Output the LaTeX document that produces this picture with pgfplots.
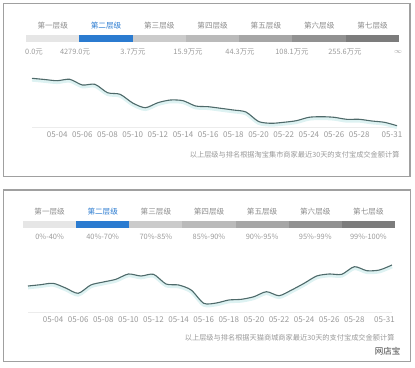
\documentclass[border=0pt]{standalone}
\usepackage{fontspec}
\setmainfont{Noto Sans CJK SC}
\usepackage{pgfplots}
\pgfplotsset{compat=1.18}
\definecolor{framegray}{HTML}{A0A0A0}
\definecolor{tiertext}{HTML}{8C8C8C}
\definecolor{selblue}{HTML}{2B7BD0}
\definecolor{valtext}{HTML}{9A9A9A}
\definecolor{tickc}{HTML}{999999}
\definecolor{linec}{HTML}{4F6A6A}
\definecolor{glow}{HTML}{DDF2F2}
\definecolor{basec}{HTML}{ECECEC}
\definecolor{sa}{HTML}{E6E6E6}
\definecolor{sc}{HTML}{CBCBCB}
\definecolor{sd}{HTML}{BABABA}
\definecolor{se}{HTML}{A6A6A6}
\definecolor{sf}{HTML}{919191}
\definecolor{sg}{HTML}{7C7C7C}
\pgfplotsset{
  tierbar/.style={width=373pt, height=7pt, scale only axis, xmin=0, xmax=7,
    ymin=-0.5, ymax=0.5, hide axis, xbar stacked, bar width=7pt},
  trend/.style={scale only axis, height=60pt, xmin=2, xmax=31, ymin=0, ymax=60,
    axis x line=bottom, axis y line=none, ytick=\empty,
    x axis line style={draw=basec, line width=0.8pt, -},
    xtick={4,6,8,10,12,14,16,18,20,22,24,26,28,30.6},
    xticklabels={05-04,05-06,05-08,05-10,05-12,05-14,05-16,05-18,05-20,05-22,05-24,05-26,05-28,05-31},
    major tick length=0pt,
    xticklabel style={font=\fontsize{8}{9}\selectfont, text=tickc, yshift=-1pt},
    clip=false}
}
\begin{document}
\begin{tikzpicture}
\useasboundingbox (0pt,0pt) rectangle (415pt,-367pt);
% ---------- panel 1 ----------
\draw[framegray, line width=1.3pt] (3.5pt,-3.5pt) rectangle (410pt,-176.5pt);
\begin{axis}[tierbar, at={(26pt,-38.5pt)}, anchor=west]
\addplot[fill=sa, draw=none] coordinates {(1,0)};
\addplot[fill=selblue, draw=none] coordinates {(1,0)};
\addplot[fill=sc, draw=none] coordinates {(1,0)};
\addplot[fill=sd, draw=none] coordinates {(1,0)};
\addplot[fill=se, draw=none] coordinates {(1,0)};
\addplot[fill=sf, draw=none] coordinates {(1,0)};
\addplot[fill=sg, draw=none] coordinates {(1,0)};
\end{axis}
\begin{scope}[font=\fontsize{7.6}{9}\selectfont]
\node[text=tiertext] at (52.7pt,-25.7pt) {第一层级};
\node[text=selblue] at (106pt,-25.7pt) {第二层级};
\node[text=tiertext] at (159.3pt,-25.7pt) {第三层级};
\node[text=tiertext] at (212.6pt,-25.7pt) {第四层级};
\node[text=tiertext] at (265.9pt,-25.7pt) {第五层级};
\node[text=tiertext] at (319.2pt,-25.7pt) {第六层级};
\node[text=tiertext] at (372.5pt,-25.7pt) {第七层级};
\end{scope}
\begin{scope}[font=\fontsize{7.4}{9}\selectfont, text=valtext]
\node[anchor=west, inner sep=0pt] at (25pt,-52pt) {0.0元};
\node at (75pt,-52pt) {4279.0元};
\node at (133pt,-52pt) {3.7万元};
\node at (188pt,-52pt) {15.9万元};
\node at (240pt,-52pt) {44.3万元};
\node at (292pt,-52pt) {108.1万元};
\node at (345pt,-52pt) {255.6万元};
\node at (398pt,-52pt) {$\infty$};
\end{scope}
\begin{axis}[trend, at={(32pt,-127pt)}, anchor=south west, width=365pt]
\addplot[glow, line width=3.5pt, smooth, tension=0.45, yshift=-1.6pt] coordinates {
(2,48.7)(3,47.5)(4,46.3)(5,47.7)(6,42)(7,42.7)(8,34.3)(9,32.7)(10,24)(11,19.3)
(12,24.3)(13,27)(14,26.3)(15,21)(16,20.3)(17,18.7)(18,17)(19,15)(20,5.5)(21,3.7)
(22,4.7)(23,6.3)(24,9.7)(25,10.3)(26,9.7)(27,7.7)(28,7.7)(29,6)(30,4.7)(31,1.3)};
\addplot[linec, line width=1.1pt, smooth, tension=0.45] coordinates {
(2,48.7)(3,47.5)(4,46.3)(5,47.7)(6,42)(7,42.7)(8,34.3)(9,32.7)(10,24)(11,19.3)
(12,24.3)(13,27)(14,26.3)(15,21)(16,20.3)(17,18.7)(18,17)(19,15)(20,5.5)(21,3.7)
(22,4.7)(23,6.3)(24,9.7)(25,10.3)(26,9.7)(27,7.7)(28,7.7)(29,6)(30,4.7)(31,1.3)};
\end{axis}
\node[anchor=east, text=tickc, font=\fontsize{7.2}{9}\selectfont] at (403pt,-155pt)
  {以上层级与排名根据淘宝集市商家最近30天的支付宝成交金额计算};
% ---------- panel 2 ----------
\draw[framegray, line width=1.3pt] (3.5pt,-190pt) rectangle (410.5pt,-361.5pt);
\begin{axis}[tierbar, at={(23pt,-224.5pt)}, anchor=west, width=372pt]
\addplot[fill=sa, draw=none] coordinates {(1,0)};
\addplot[fill=selblue, draw=none] coordinates {(1,0)};
\addplot[fill=sc, draw=none] coordinates {(1,0)};
\addplot[fill=sd, draw=none] coordinates {(1,0)};
\addplot[fill=se, draw=none] coordinates {(1,0)};
\addplot[fill=sf, draw=none] coordinates {(1,0)};
\addplot[fill=sg, draw=none] coordinates {(1,0)};
\end{axis}
\begin{scope}[font=\fontsize{7.6}{9}\selectfont]
\node[text=tiertext] at (49.6pt,-211.7pt) {第一层级};
\node[text=selblue] at (102.7pt,-211.7pt) {第二层级};
\node[text=tiertext] at (155.9pt,-211.7pt) {第三层级};
\node[text=tiertext] at (209pt,-211.7pt) {第四层级};
\node[text=tiertext] at (262.1pt,-211.7pt) {第五层级};
\node[text=tiertext] at (315.3pt,-211.7pt) {第六层级};
\node[text=tiertext] at (368.4pt,-211.7pt) {第七层级};
\end{scope}
\begin{scope}[font=\fontsize{7.4}{9}\selectfont, text=valtext]
\node at (49.6pt,-237pt) {0\%-40\%};
\node at (102.7pt,-237pt) {40\%-70\%};
\node at (155.9pt,-237pt) {70\%-85\%};
\node at (209pt,-237pt) {85\%-90\%};
\node at (262.1pt,-237pt) {90\%-95\%};
\node at (315.3pt,-237pt) {95\%-99\%};
\node at (368.4pt,-237pt) {99\%-100\%};
\end{scope}
\begin{axis}[trend, at={(28pt,-312pt)}, anchor=south west, width=364pt,
  xtick={4,6,8,10,12,14,16,18,20,22,24,26,28,30.4}]
\addplot[glow, line width=3.5pt, smooth, tension=0.45, yshift=-1.6pt] coordinates {
(2,26)(3,27.3)(4,28.7)(5,24)(6,18.7)(7,27)(8,30)(9,32.7)(10,38)(11,36)
(12,37.7)(13,28)(14,27)(15,22)(16,8.7)(17,9)(18,12)(19,12.7)(20,15.3)(21,20.3)
(22,16.3)(23,22)(24,28.7)(25,36)(26,38)(27,37.7)(28,45.3)(29,41.3)(30,42)(31,47)};
\addplot[linec, line width=1.1pt, smooth, tension=0.45] coordinates {
(2,26)(3,27.3)(4,28.7)(5,24)(6,18.7)(7,27)(8,30)(9,32.7)(10,38)(11,36)
(12,37.7)(13,28)(14,27)(15,22)(16,8.7)(17,9)(18,12)(19,12.7)(20,15.3)(21,20.3)
(22,16.3)(23,22)(24,28.7)(25,36)(26,38)(27,37.7)(28,45.3)(29,41.3)(30,42)(31,47)};
\end{axis}
\node[anchor=east, text=tickc, font=\fontsize{7.2}{9}\selectfont] at (398pt,-338pt)
  {以上层级与排名根据天猫商城商家最近30天的支付宝成交金额计算};
\node[anchor=east, text=black!75, font=\fontsize{8.5}{9}\selectfont] at (404pt,-351pt) {网店宝};
\end{tikzpicture}
\end{document}
